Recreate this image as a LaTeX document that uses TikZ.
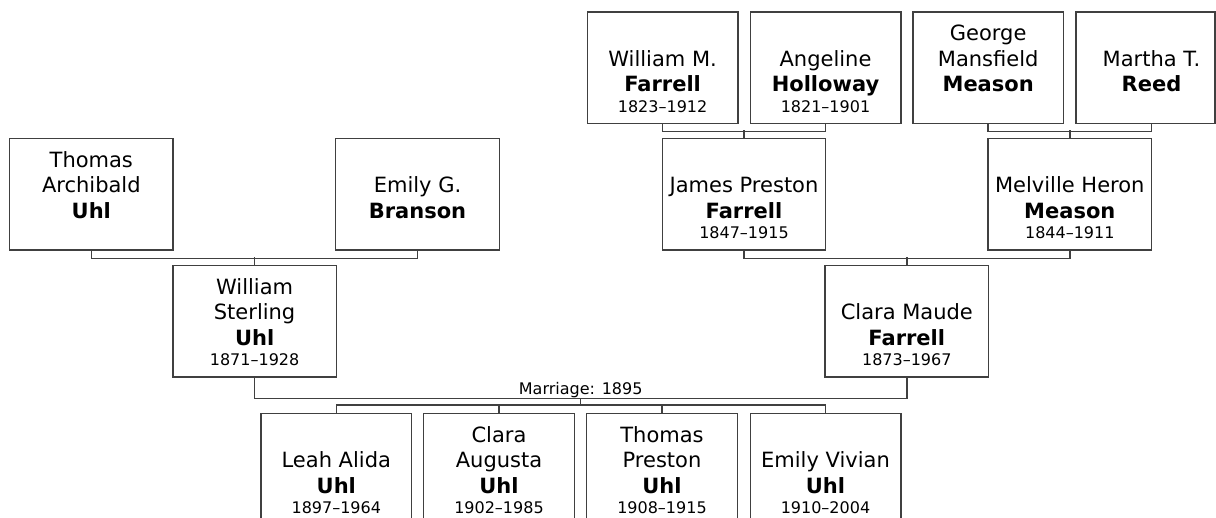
\documentclass[tikz,border=0pt]{standalone}
\usepackage{fontspec}
\setmainfont{DejaVu Sans}
\usetikzlibrary{calc}
\definecolor{ln}{HTML}{404040}
\newcommand\Fa[1]{\rule[-7.65bp]{0pt}{30.05bp}#1}
\newcommand\Fb[1]{\rule[-7.65bp]{0pt}{25.5bp}#1}
\newcommand\Dt[1]{{\fontsize{16bp}{20bp}\selectfont\rule[-5bp]{0pt}{19.35bp}#1}}
\newcommand\pp[4]{\Fa{#1}\\\Fb{#2}\\\Fb{\textbf{#3}}\\[-5.2bp]\Dt{#4}}
\tikzset{
  pbox/.style={draw=ln, line width=1.3bp, rectangle, inner sep=0pt,
    minimum height=111.3bp, align=center,
    font=\fontsize{21bp}{25.5bp}\selectfont},
  widebox/.style={pbox, minimum width=163.5bp},
  narrowbox/.style={pbox, minimum width=150.7bp},
  conn/.style={draw=ln, line width=1.5bp},
  smalltext/.style={font=\fontsize{16bp}{20bp}\selectfont, inner sep=0pt}
}
\begin{document}
\begin{tikzpicture}[x=1bp,y=-1bp]
\useasboundingbox (0,0) rectangle (1216,518);
\fill[white] (0,0) rectangle (1216,518);
\clip (0,0) rectangle (1216,518);

% generation 0
\node[narrowbox] (WM) at (662.6,67.7) {\pp{}{William M.}{Farrell}{1823–1912}};
\node[narrowbox] (AH) at (825.5,67.7) {\pp{}{Angeline}{Holloway}{1821–1901}};
\node[narrowbox] (GM) at (988.2,67.7) {\pp{George}{Mansfield}{Meason}{}};
\node[pbox, minimum width=139bp] (MR) at (1145.5,67.7) {};
\node[pbox, draw=none, minimum width=139bp] (MRt) at (1151.5,67.7) {\pp{}{Martha T.}{Reed}{}};

% generation 1
\node[widebox] (TA) at (91.3,194.3) {\pp{Thomas}{Archibald}{Uhl}{}};
\node[widebox] (EB) at (417.5,194.3) {\pp{}{Emily G.}{Branson}{}};
\node[widebox] (JP) at (744,194.3) {\pp{}{James Preston}{Farrell}{1847–1915}};
\node[widebox] (MH) at (1069.8,194.3) {\pp{}{Melville Heron}{Meason}{1844–1911}};

% generation 2
\node[widebox] (WS) at (254.6,321.4) {\pp{William}{Sterling}{Uhl}{1871–1928}};
\node[widebox] (CM) at (906.8,321.4) {\pp{}{Clara Maude}{Farrell}{1873–1967}};

% children
\node[narrowbox] (C1) at (336.3,469) {\pp{}{Leah Alida}{Uhl}{1897–1964}};
\node[narrowbox] (C2) at (499,469) {\pp{Clara}{Augusta}{Uhl}{1902–1985}};
\node[narrowbox] (C3) at (662,469) {\pp{Thomas}{Preston}{Uhl}{1908–1915}};
\node[narrowbox] (C4) at (825.5,469) {\pp{}{Emily Vivian}{Uhl}{1910–2004}};

% connectors
\draw[conn] (WM.south) -- ++(0,7.4) -| (AH.south);
\draw[conn] (JP.north) -- ++(0,-7.8);
\draw[conn] (GM.south) -- ++(0,7.4) -| (MRt.south);
\draw[conn] (MH.north) -- ++(0,-7.8);
\draw[conn] (TA.south) -- ++(0,7.7) -| (EB.south);
\draw[conn] (WS.north) -- ++(0,-7.9);
\draw[conn] (JP.south) -- ++(0,7.7) -| (MH.south);
\draw[conn] (CM.north) -- ++(0,-7.9);
\draw[conn] (WS.south) -- ++(0,21) -| (CM.south);
\coordinate (mm) at ($(WS.south)!0.5!(CM.south)+(0,21)$);
\draw[conn] (mm) -- ++(0,7.7);
\draw[conn] (C1.north) -- ++(0,-7.7) -| (C4.north);
\draw[conn] (C2.north) -- ++(0,-7.7);
\draw[conn] (C3.north) -- ++(0,-7.7);
\node[smalltext, anchor=base] (mar) at ($(mm)+(0,-4)$) {Marriage: 1895};
\end{tikzpicture}
\end{document}
